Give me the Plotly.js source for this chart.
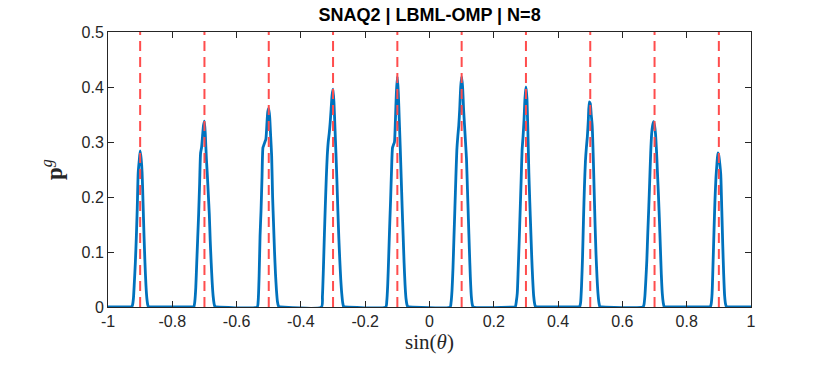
<!DOCTYPE html>
<html>
<head>
<meta charset="utf-8">
<script src="https://cdn.plot.ly/plotly-3.0.1.min.js"></script>
<style>
  body { margin: 0; background: #fff; }
  #plot { width: 830px; height: 366px; }
</style>
</head>
<body>
<div id="plot"></div>
<script>
// beam centres (sin theta) where the red dashed reference lines sit
const centers = [-0.9, -0.7, -0.5, -0.3, -0.1, 0.1, 0.3, 0.5, 0.7, 0.9];

// sample offsets around each centre (same grid for every peak)
const offsets = [-0.036, -0.033, -0.030, -0.027, -0.024, -0.021, -0.018, -0.015, -0.012,
  -0.009, -0.006, -0.003, 0, 0.003, 0.006, 0.009, 0.012, 0.015, 0.018, 0.021, 0.024,
  0.027, 0.030, 0.033, 0.036];

// p^g at each offset, one row per peak
const peakM09 = [0, 0, 0, 0, 0.003, 0.015, 0.045, 0.08, 0.125, 0.18, 0.245, 0.265, 0.284,
  0.27, 0.245, 0.19, 0.13, 0.08, 0.04, 0.015, 0.003, 0, 0, 0, 0];
const peakM07 = [0, 0, 0.01, 0.035, 0.08, 0.125, 0.17, 0.225, 0.28, 0.29, 0.31, 0.33, 0.338,
  0.31, 0.27, 0.24, 0.205, 0.17, 0.12, 0.08, 0.045, 0.02, 0.006, 0, 0];
const peakM05 = [0, 0.01, 0.055, 0.13, 0.175, 0.235, 0.29, 0.295, 0.30, 0.305, 0.33, 0.355, 0.361,
  0.345, 0.31, 0.275, 0.2, 0.15, 0.1, 0.06, 0.03, 0.01, 0.002, 0, 0];
const peakM03 = [0, 0.02, 0.07, 0.13, 0.185, 0.235, 0.275, 0.30, 0.315, 0.335, 0.36, 0.385, 0.396,
  0.37, 0.325, 0.28, 0.23, 0.175, 0.125, 0.085, 0.05, 0.025, 0.008, 0, 0];
const peakM01 = [0, 0.01, 0.04, 0.09, 0.145, 0.195, 0.25, 0.29, 0.295, 0.30, 0.34, 0.39, 0.419,
  0.39, 0.34, 0.29, 0.235, 0.18, 0.13, 0.08, 0.04, 0.015, 0.004, 0, 0];
const peakP01 = [0, 0.008, 0.03, 0.07, 0.125, 0.18, 0.235, 0.285, 0.31, 0.33, 0.36, 0.40, 0.419,
  0.40, 0.36, 0.33, 0.30, 0.27, 0.215, 0.16, 0.105, 0.055, 0.02, 0.005, 0];
const peakP03 = [0, 0, 0.01, 0.025, 0.07, 0.12, 0.175, 0.23, 0.285, 0.31, 0.34, 0.38, 0.400,
  0.38, 0.32, 0.245, 0.19, 0.14, 0.09, 0.05, 0.02, 0.006, 0, 0, 0];
const peakP05 = [0, 0, 0.008, 0.04, 0.09, 0.16, 0.22, 0.265, 0.29, 0.31, 0.34, 0.373, 0.37,
  0.35, 0.33, 0.28, 0.215, 0.15, 0.095, 0.055, 0.025, 0.008, 0, 0, 0];
const peakP07 = [0, 0.004, 0.02, 0.05, 0.085, 0.135, 0.18, 0.23, 0.28, 0.315, 0.33, 0.337, 0.33,
  0.315, 0.285, 0.245, 0.205, 0.16, 0.11, 0.06, 0.025, 0.008, 0, 0, 0];
const peakP09 = [0, 0, 0, 0, 0.005, 0.025, 0.08, 0.14, 0.195, 0.235, 0.26, 0.28, 0.275,
  0.26, 0.24, 0.18, 0.115, 0.06, 0.02, 0.005, 0, 0, 0, 0, 0];

const peaks = [peakM09, peakM07, peakM05, peakM03, peakM01, peakP01, peakP03, peakP05, peakP07, peakP09];

const xTicks = [-1, -0.8, -0.6, -0.4, -0.2, 0, 0.2, 0.4, 0.6, 0.8, 1];
const xTickText = ["-1", "-0.8", "-0.6", "-0.4", "-0.2", "0", "0.2", "0.4", "0.6", "0.8", "1"];
const yTicks = [0, 0.1, 0.2, 0.3, 0.4, 0.5];
const yTickText = ["0", "0.1", "0.2", "0.3", "0.4", "0.5"];

// build the blue curve
let curveX = [-1];
let curveY = [0];
for (let i = 0; i < centers.length; i++) {
  for (let k = 0; k < offsets.length; k++) {
    curveX.push(centers[i] + offsets[k]);
    curveY.push(peaks[i][k]);
  }
}
curveX.push(1);
curveY.push(0);

// red dashed lines, one segment per centre
let refX = [];
let refY = [];
for (let c of centers) {
  refX.push(c, c, null);
  refY.push(0, 0.5, null);
}

const data = [
  {
    x: curveX, y: curveY, type: "scatter", mode: "lines",
    line: { color: "#0072BD", width: 2.8, shape: "spline", smoothing: 0.6 },
    hoverinfo: "skip"
  },
  {
    x: refX, y: refY, type: "scatter", mode: "lines",
    line: { color: "rgb(255,77,77)", width: 2, dash: "10px,6px" },
    hoverinfo: "skip"
  }
];

const axisCommon = {
  showline: true, mirror: "ticks", linecolor: "#262626", linewidth: 1,
  ticks: "inside", ticklen: 6, tickcolor: "#262626", tickwidth: 1,
  showgrid: false, zeroline: false,
  tickfont: { family: "Liberation Sans, Arial, sans-serif", size: 16, color: "#262626" }
};

const layout = {
  width: 830, height: 366,
  margin: { l: 108, r: 79, t: 32, b: 59 },
  paper_bgcolor: "#fff", plot_bgcolor: "#fff",
  showlegend: false,
  title: {
    text: "<b>SNAQ2 | LBML-OMP | N=8</b>",
    font: { family: "Liberation Sans, Arial, sans-serif", size: 18, color: "#000" },
    x: 0.5175, xanchor: "center", y: 0.960, yanchor: "middle"
  },
  xaxis: Object.assign({}, axisCommon, {
    range: [-1, 1], tickvals: xTicks, ticktext: xTickText,
    title: { text: "sin(<i>θ</i>)", font: { family: "Liberation Serif, serif", size: 21, color: "#262626" }, standoff: 4 }
  }),
  yaxis: Object.assign({}, axisCommon, {
    range: [0, 0.5], tickvals: yTicks, ticktext: yTickText,
    title: { text: "<b>p</b><sup><i>g</i></sup>", font: { family: "Liberation Serif, serif", size: 23, color: "#262626" }, standoff: 12 }
  })
};

Plotly.newPlot("plot", data, layout, { displayModeBar: false, staticPlot: true });
</script>
</body>
</html>
